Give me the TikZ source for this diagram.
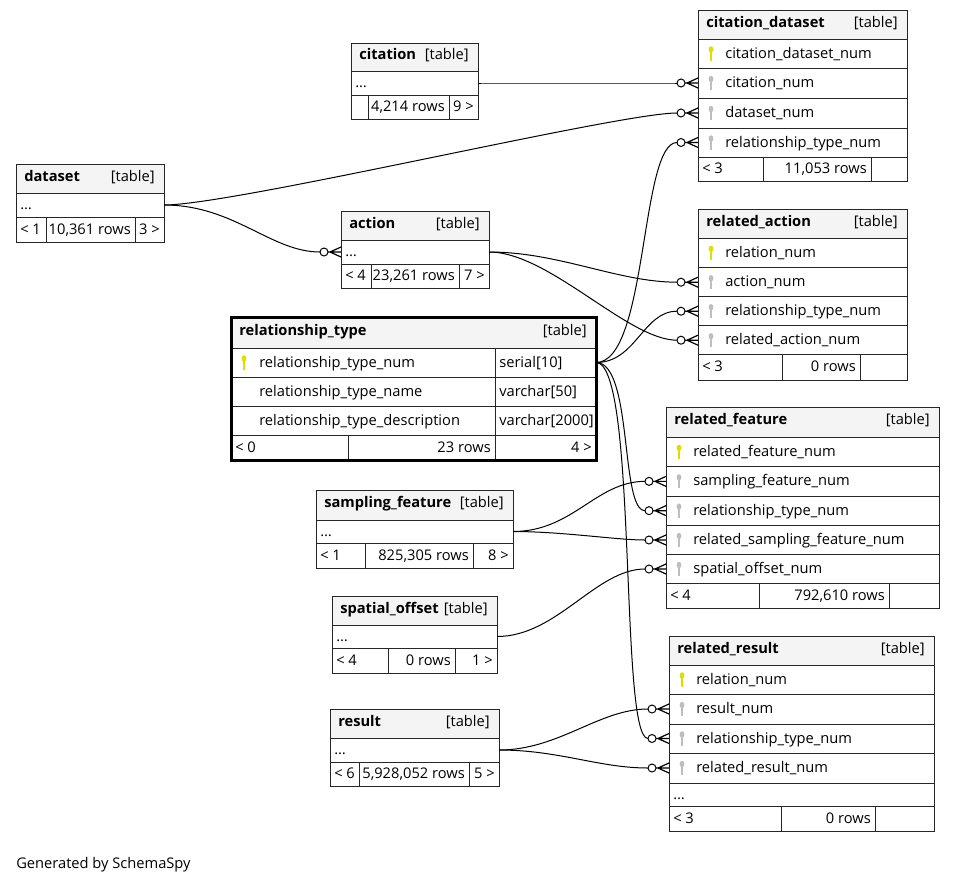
\documentclass[tikz,border=0pt]{standalone}
\usepackage{fontspec}
\setmainfont{Open Sans}
\usetikzlibrary{fit,calc,positioning}
\definecolor{headgray}{RGB}{244,244,244}
\definecolor{pkyellow}{RGB}{222,222,0}
\definecolor{fkgray}{RGB}{190,190,190}

% one framed cell of a table, with its text
\newcommand\txtcell[5]{%
  \node[cell, fit={#2}] (#1) {};
  \node[txt, anchor=base #3] at ($(#1.#3)+(#4,4.5)$) (#1-t) {#5};}
% table header
\newcommand\headcell[3]{%
  \node[cell, fill=headgray, fit={#2}] (#1) {};
  \node[title, anchor=base west] at ($(#1.west)+(8,2.5)$) (#1-n) {#3};
  \node[txt, anchor=base east] at ($(#1.east)+(-9,2.5)$) (#1-k) {[table]};}
% key symbol in front of a column
\newcommand\keyicon[2]{%
  \draw[#2, line width=1.3pt] ($(#1.west)+(13,-2)$) -- ($(#1.west)+(13,7)$);
  \fill[#2] ($(#1.west)+(13,-4)$) ellipse[x radius=1.8pt, y radius=2.4pt];}
% many-end of a foreign key
\newcommand\fkend[1]{%
  \draw[link, fill=white] ($(#1.west)+(-17,0)$) circle[radius=3pt];
  \draw[link, line width=0.9pt] ($(#1.west)+(-13,0)$) -- (#1.west)
    ($(#1.west)+(-11,0)$) -- ($(#1.west)+(0,-5)$)
    ($(#1.west)+(-11,0)$) -- ($(#1.west)+(0,5)$);}

\begin{document}
\begin{tikzpicture}[x=0.75pt, y=-0.75pt,
    cell/.style={draw=black!85, line width=0.75pt, inner sep=0pt, outer sep=0pt},
    txt/.style={inner sep=0pt, font=\fontsize{11}{13}\selectfont},
    title/.style={inner sep=0pt, font=\fontsize{11}{13}\selectfont\bfseries},
    link/.style={draw=black, line width=0.75pt}]

    \useasboundingbox (0,0) rectangle (955,885);

    % citation
    \headcell{cit-head}{(351,43)(478,71)}{citation}
    \txtcell{cit-dots}{(351,71)(478,95)}{west}{4}{…}
    \txtcell{cit-f1}{(351,95)(368,119)}{west}{4}{}
    \txtcell{cit-f2}{(368,95)(449,119)}{east}{-4}{4,214 rows}
    \txtcell{cit-f3}{(449,95)(478,119)}{east}{-4}{9 >}

    % citation_dataset
    \headcell{cds-head}{(698,10)(907,39)}{citation\_dataset}
    \txtcell{cds-num}{(698,39)(907,68)}{west}{27}{citation\_dataset\_num}
    \txtcell{cds-cit}{(698,68)(907,98)}{west}{27}{citation\_num}
    \txtcell{cds-ds}{(698,98)(907,128)}{west}{27}{dataset\_num}
    \txtcell{cds-rt}{(698,128)(907,157)}{west}{27}{relationship\_type\_num}
    \txtcell{cds-f1}{(698,157)(763,181)}{west}{4}{< 3}
    \txtcell{cds-f2}{(763,157)(871,181)}{east}{-4}{11,053 rows}
    \txtcell{cds-f3}{(871,157)(907,181)}{east}{-4}{}
    \keyicon{cds-num}{pkyellow}
    \foreach \k in {cds-cit,cds-ds,cds-rt} {\keyicon{\k}{fkgray}}

    % dataset
    \headcell{ds-head}{(16,164)(164,193)}{dataset}
    \txtcell{ds-dots}{(16,193)(164,217)}{west}{4}{…}
    \txtcell{ds-f1}{(16,217)(46,242)}{west}{4}{< 1}
    \txtcell{ds-f2}{(46,217)(135,242)}{east}{-4}{10,361 rows}
    \txtcell{ds-f3}{(135,217)(164,242)}{east}{-4}{3 >}

    % action
    \headcell{act-head}{(341,211)(489,240)}{action}
    \txtcell{act-dots}{(341,240)(489,264)}{west}{4}{…}
    \txtcell{act-f1}{(341,264)(371,288)}{west}{4}{< 4}
    \txtcell{act-f2}{(371,264)(459,288)}{east}{-4}{23,261 rows}
    \txtcell{act-f3}{(459,264)(489,288)}{east}{-4}{7 >}

    % related_action
    \headcell{ra-head}{(698,209)(907,238)}{related\_action}
    \txtcell{ra-num}{(698,238)(907,267.7)}{west}{27}{relation\_num}
    \txtcell{ra-act}{(698,267.7)(907,296.7)}{west}{27}{action\_num}
    \txtcell{ra-rt}{(698,296.7)(907,325.7)}{west}{27}{relationship\_type\_num}
    \txtcell{ra-rel}{(698,325.7)(907,354.7)}{west}{27}{related\_action\_num}
    \txtcell{ra-f1}{(698,354.7)(782,380)}{west}{4}{< 3}
    \txtcell{ra-f2}{(782,354.7)(860,380)}{east}{-4}{0 rows}
    \txtcell{ra-f3}{(860,354.7)(907,380)}{east}{-4}{}
    \keyicon{ra-num}{pkyellow}
    \foreach \k in {ra-act,ra-rt,ra-rel} {\keyicon{\k}{fkgray}}

    % relationship_type
    \headcell{rt-head}{(231,317)(596,348)}{relationship\_type}
    \txtcell{rt-num}{(231,348)(495,377)}{west}{28}{relationship\_type\_num}
    \txtcell{rt-num-ty}{(495,348)(596,377)}{west}{4}{serial[10]}
    \txtcell{rt-name}{(231,377)(495,406)}{west}{28}{relationship\_type\_name}
    \txtcell{rt-name-ty}{(495,377)(596,406)}{west}{4}{varchar[50]}
    \txtcell{rt-desc}{(231,406)(495,435)}{west}{28}{relationship\_type\_description}
    \txtcell{rt-desc-ty}{(495,406)(596,435)}{west}{4}{varchar[2000]}
    \txtcell{rt-f1}{(231,435)(348,460)}{west}{4}{< 0}
    \txtcell{rt-f2}{(348,435)(495,460)}{east}{-4}{23 rows}
    \txtcell{rt-f3}{(495,435)(596,460)}{east}{-4}{4 >}
    \keyicon{rt-num}{pkyellow}
    \draw[line width=2.25pt] (rt-head.north west) rectangle (rt-f3.south east);

    % related_feature
    \headcell{rf-head}{(666,407)(939,437)}{related\_feature}
    \txtcell{rf-num}{(666,437)(939,466.7)}{west}{27}{related\_feature\_num}
    \txtcell{rf-sf}{(666,466.7)(939,496)}{west}{27}{sampling\_feature\_num}
    \txtcell{rf-rt}{(666,496)(939,525.3)}{west}{27}{relationship\_type\_num}
    \txtcell{rf-rsf}{(666,525.3)(939,554.7)}{west}{27}{related\_sampling\_feature\_num}
    \txtcell{rf-so}{(666,554.7)(939,583.3)}{west}{27}{spatial\_offset\_num}
    \txtcell{rf-f1}{(666,583.3)(759,608.3)}{west}{4}{< 4}
    \txtcell{rf-f2}{(759,583.3)(889,608.3)}{east}{-4}{792,610 rows}
    \txtcell{rf-f3}{(889,583.3)(939,608.3)}{east}{-4}{}
    \keyicon{rf-num}{pkyellow}
    \foreach \k in {rf-sf,rf-rt,rf-rsf,rf-so} {\keyicon{\k}{fkgray}}

    % sampling_feature
    \headcell{sf-head}{(316,490)(513,520)}{sampling\_feature}
    \txtcell{sf-dots}{(316,520)(513,543)}{west}{4}{…}
    \txtcell{sf-f1}{(316,543)(365,568)}{west}{4}{< 1}
    \txtcell{sf-f2}{(365,543)(473,568)}{east}{-4}{825,305 rows}
    \txtcell{sf-f3}{(473,543)(513,568)}{east}{-4}{8 >}

    % spatial_offset
    \headcell{so-head}{(332,596)(497,625)}{spatial\_offset}
    \txtcell{so-dots}{(332,625)(497,648)}{west}{4}{…}
    \txtcell{so-f1}{(332,648)(388,673)}{west}{4}{< 4}
    \txtcell{so-f2}{(388,648)(455,673)}{east}{-4}{0 rows}
    \txtcell{so-f3}{(455,648)(497,673)}{east}{-4}{1 >}

    % result
    \headcell{res-head}{(330,709)(499,738)}{result}
    \txtcell{res-dots}{(330,738)(499,762)}{west}{4}{…}
    \txtcell{res-f1}{(330,762)(359,786)}{west}{4}{< 6}
    \txtcell{res-f2}{(359,762)(469,786)}{east}{-4}{5,928,052 rows}
    \txtcell{res-f3}{(469,762)(499,786)}{east}{-4}{5 >}

    % related_result
    \headcell{rr-head}{(669,636)(934,665)}{related\_result}
    \txtcell{rr-num}{(669,665)(934,694)}{west}{27}{relation\_num}
    \txtcell{rr-res}{(669,694)(934,724)}{west}{27}{result\_num}
    \txtcell{rr-rt}{(669,724)(934,753)}{west}{27}{relationship\_type\_num}
    \txtcell{rr-rres}{(669,753)(934,783)}{west}{27}{related\_result\_num}
    \txtcell{rr-dots}{(669,783)(934,806)}{west}{4}{…}
    \txtcell{rr-f1}{(669,806)(781,831)}{west}{4}{< 3}
    \txtcell{rr-f2}{(781,806)(875,831)}{east}{-4}{0 rows}
    \txtcell{rr-f3}{(875,806)(934,831)}{east}{-4}{}
    \keyicon{rr-num}{pkyellow}
    \foreach \k in {rr-res,rr-rt,rr-rres} {\keyicon{\k}{fkgray}}

    % foreign keys
    \draw[link, shorten >=15.75pt] (cit-dots.east) .. controls +(60,0) and +(-60,0) .. (cds-cit.west);
    \draw[link, shorten >=15.75pt] (ds-dots.east) .. controls +(70,0) and +(-80,0) .. (cds-ds.west);
    \draw[link, shorten >=15.75pt] (ds-dots.east) .. controls +(70,0) and +(-70,0) .. (act-dots.west);
    \draw[link, shorten >=15.75pt] (rt-num-ty.east) .. controls +(52,0) and +(-58,0) .. (cds-rt.west);
    \draw[link, shorten >=15.75pt] (act-dots.east) .. controls +(70,0) and +(-80,0) .. (ra-act.west);
    \draw[link, shorten >=15.75pt] (act-dots.east) .. controls +(60,0) and +(-70,0) .. (ra-rel.west);
    \draw[link, shorten >=15.75pt] (rt-num-ty.east) .. controls +(40,0) and +(-55,0) .. (ra-rt.west);
    \draw[link, shorten >=15.75pt] (rt-num-ty.east) .. controls +(37,0) and +(-46,0) .. (rf-rt.west);
    \draw[link, shorten >=15.75pt] (rt-num-ty.east) .. controls +(42,0) and +(-50,0) .. (rr-rt.west);
    \draw[link, shorten >=15.75pt] (sf-dots.east) .. controls +(60,0) and +(-70,0) .. (rf-sf.west);
    \draw[link, shorten >=15.75pt] (sf-dots.east) .. controls +(50,0) and +(-50,0) .. (rf-rsf.west);
    \draw[link, shorten >=15.75pt] (so-dots.east) .. controls +(60,0) and +(-70,0) .. (rf-so.west);
    \draw[link, shorten >=15.75pt] (res-dots.east) .. controls +(60,0) and +(-70,0) .. (rr-res.west);
    \draw[link, shorten >=15.75pt] (res-dots.east) .. controls +(60,0) and +(-70,0) .. (rr-rres.west);
    \foreach \e in {cds-cit,cds-ds,cds-rt,act-dots,ra-act,ra-rt,ra-rel,rf-sf,rf-rt,rf-rsf,rf-so,rr-res,rr-rt,rr-rres} {\fkend{\e}}

    \node[txt, anchor=base west] at (16,868) (gen) {Generated by SchemaSpy};
\end{tikzpicture}
\end{document}
